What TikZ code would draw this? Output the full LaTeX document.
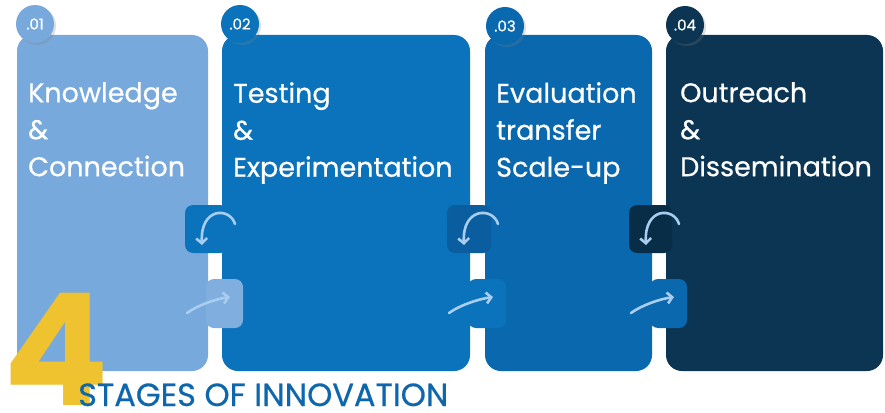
\documentclass[tikz,border=0pt]{standalone}
\usepackage{fontspec}
\setmainfont{Poppins}
\newfontfamily\stagefont{Poppins}[FakeBold=0.6]
\usetikzlibrary{arrows.meta,positioning,shadows}
\definecolor{StageOne}{HTML}{78A9DC}
\definecolor{StageOneTab}{HTML}{80AEDF}
\definecolor{StageTwo}{HTML}{0A73BC}
\definecolor{StageThree}{HTML}{0A68AE}
\definecolor{StageThreeTab}{HTML}{0A5D9E}
\definecolor{StageFour}{HTML}{0B3552}
\definecolor{StageFourTab}{HTML}{082D47}
\definecolor{Gold}{HTML}{EFC22F}
\definecolor{TitleBlue}{HTML}{0E67AD}
\definecolor{ArrowTint}{HTML}{A8CDEE}
\tikzset{
 card/.style={rounded corners=16pt},
 tab/.style={rounded corners=8pt},
 badge/.style={circle, minimum size=38pt, inner sep=0pt, text=white, font=\stagefont\fontsize{15}{15}\selectfont,
   drop shadow={opacity=0.25, shadow xshift=2pt, shadow yshift=-2pt}},
 stagetitle/.style={anchor=north west, inner sep=0pt, align=left, text=white, font=\stagefont\fontsize{27}{37}\selectfont},
 cyclearrow/.style={-{Straight Barb[length=5pt,width=11pt]}, line width=2.6pt, line cap=round, draw=ArrowTint}
}

\begin{document}
\begin{tikzpicture}[x=1pt,y=-1pt]
\useasboundingbox (0,0) rectangle (885,412);
\clip (0,0) rectangle (885,412);
\fill[white] (0,0) rectangle (885,412);

% cards
\fill[card, StageOne] (17,35) rectangle (208,371);
\fill[card, StageTwo] (222,35) rectangle (470,371);
\fill[card, StageThree] (485,35) rectangle (652,371);
\fill[card, StageFour] (666,35) rectangle (883,371);

% tabs and arrows between the cards
\foreach \L/\R/\up/\low in {208/222/StageTwo/StageOneTab, 470/485/StageThreeTab/StageTwo, 652/666/StageFourTab/StageThree}{
  \fill[tab, \up] (\L-23,205) rectangle (\R+6,253);
  \fill[tab, \low] (\L-2,279) rectangle (\R+21,328);
  \coordinate (u1) at (\R+13,224);
  \coordinate (u2) at (\L-6,245);
  \coordinate (d1) at (\L-21,313);
  \coordinate (d2) at (\R+8,297);
  \draw[cyclearrow] (u1) .. controls (\R+8,207) and (\L-8,207) .. (u2);
  \draw[cyclearrow] (d1) .. controls (\L-10,305) and (\R-6,299) .. (d2);
}

% badges
\node[badge, fill=StageOne] (b1) at (35,24) {.01};
\node[badge, fill=StageTwo] (b2) at (240,24) {.02};
\node[badge, fill=StageThree] (b3) at (505,26) {.03};
\node[badge, fill=StageFour] (b4) at (685,25) {.04};

% stage titles
\node[stagetitle] (t1) at (28,82) {Knowledge\\\&\\Connection};
\node[stagetitle] (t2) at (233,82) {Testing\\\&\\Experimentation};
\node[stagetitle] (t3) at (496,82) {Evaluation\\transfer\\Scale-up};
\node[stagetitle] (t4) at (680,82) {Outreach\\\&\\Dissemination};

% caption
\node[anchor=base west, inner sep=0pt, text=Gold, font=\fontsize{156}{156}\selectfont\bfseries] (four) at (3,405) {4};
\node[anchor=base west, inner sep=0pt, text=TitleBlue, font=\stagefont\fontsize{32}{32}\selectfont] (caption) at (78,406) {STAGES OF INNOVATION};
\end{tikzpicture}
\end{document}
